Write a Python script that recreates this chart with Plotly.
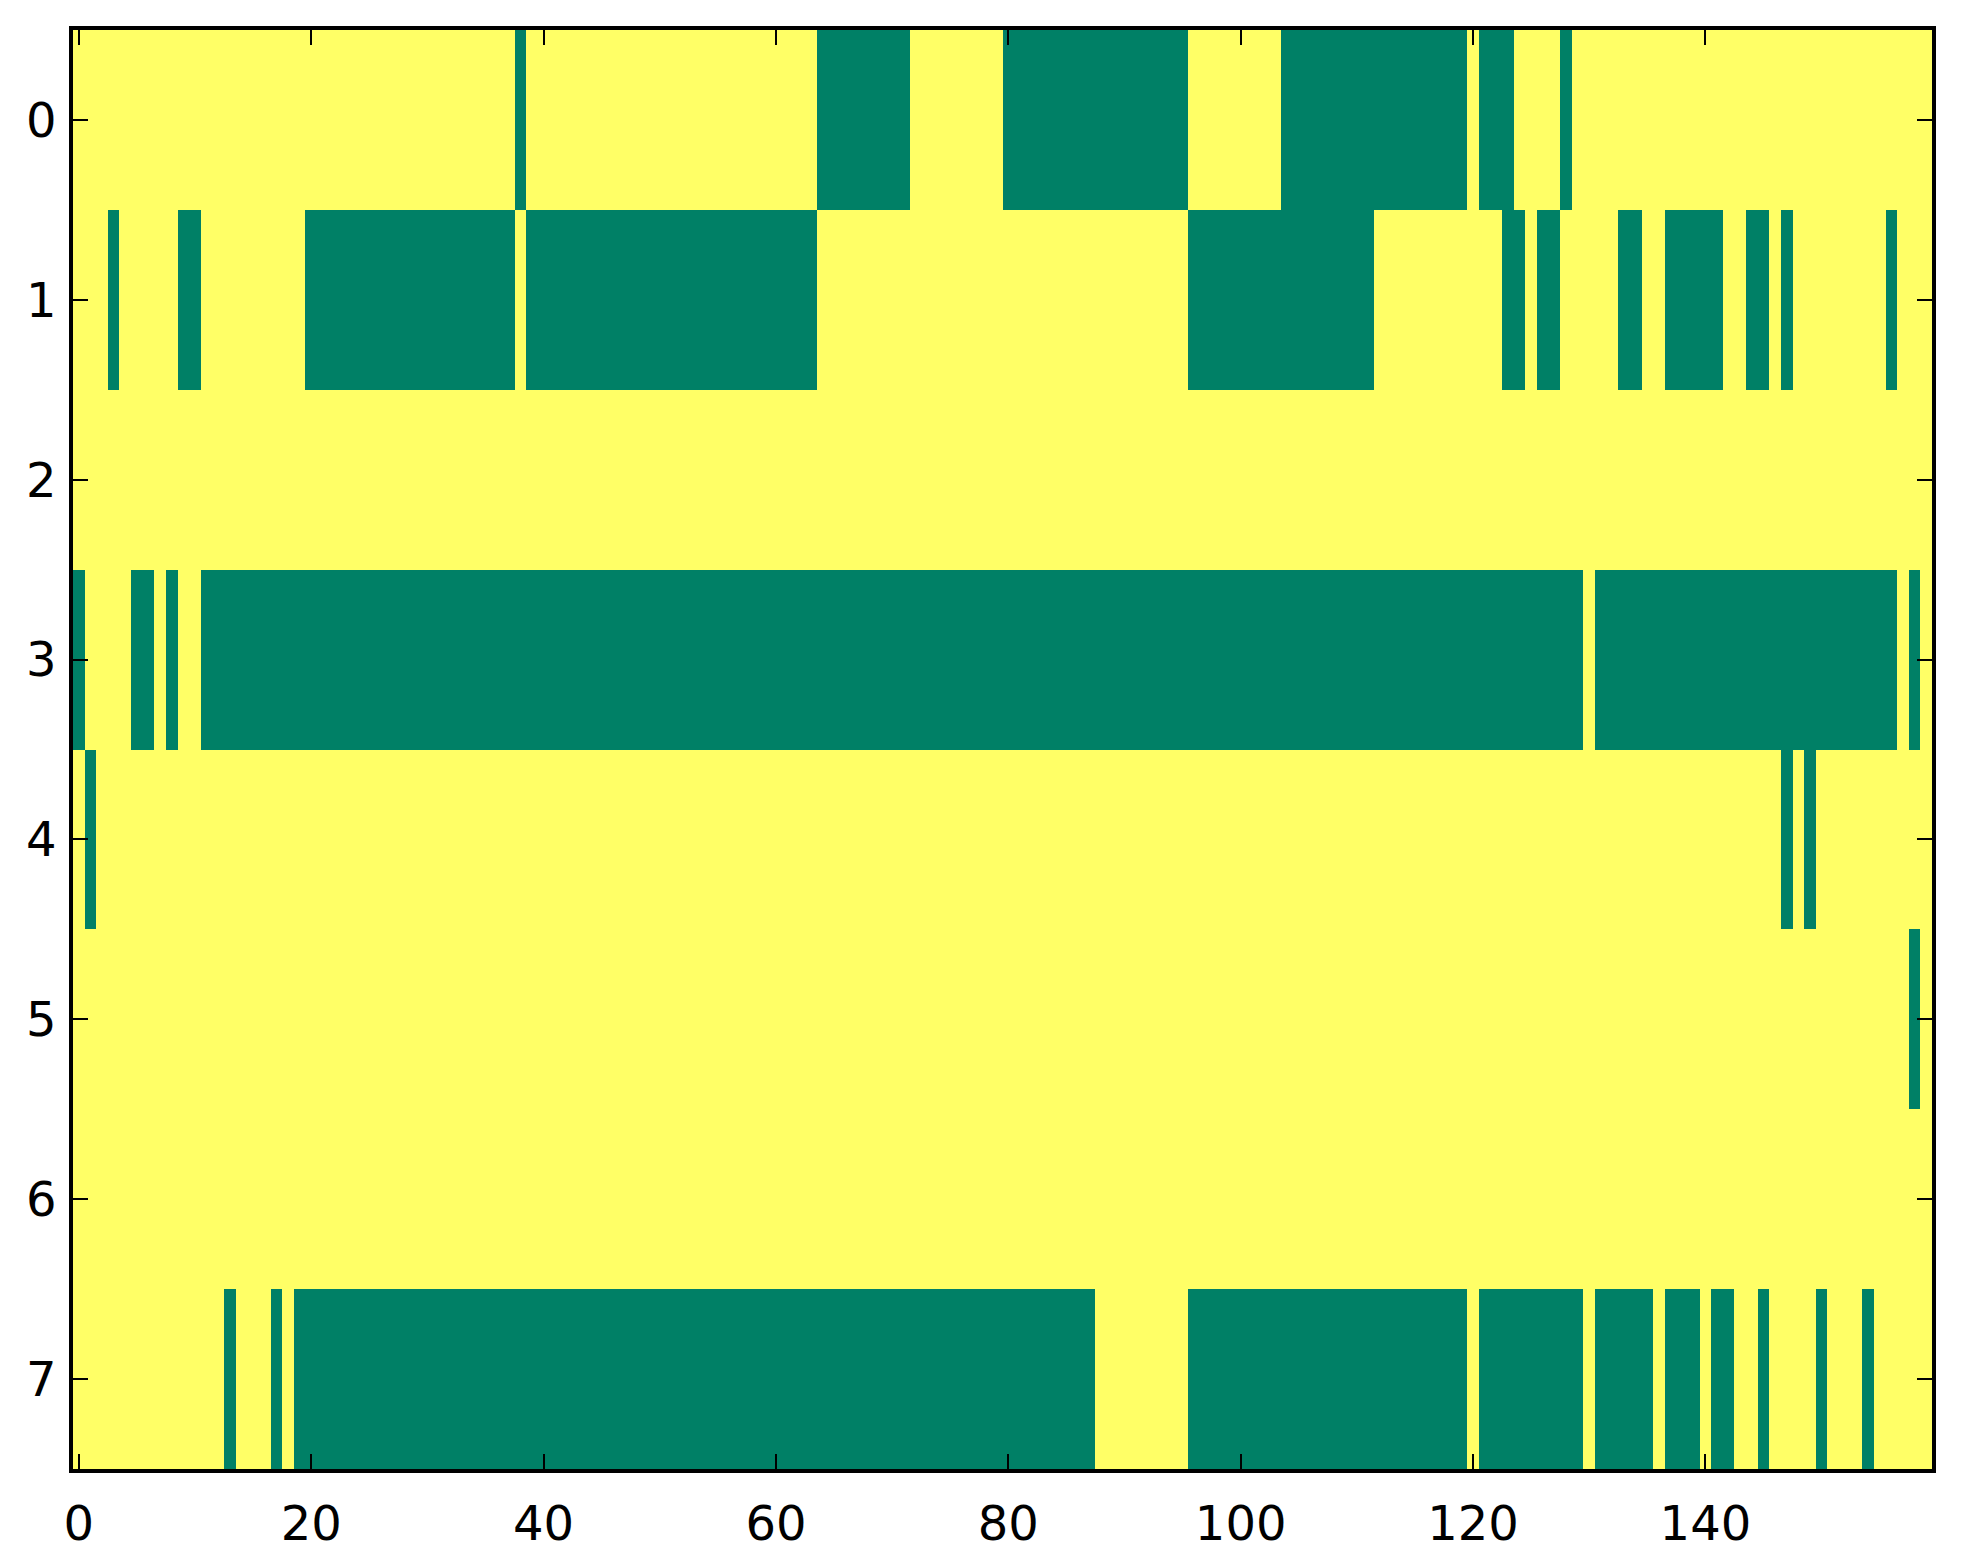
import plotly.graph_objects as go

# Matrix size
n_rows = 8
n_cols = 160

# Green (value 0) runs per row, inclusive column ranges; everything else is 1 (yellow)
row0_low = [(38, 38), (64, 71), (80, 95), (104, 119), (121, 123), (128, 128)]
row1_low = [(3, 3), (9, 10), (20, 37), (39, 63), (96, 111), (123, 124), (126, 127),
            (133, 134), (137, 141), (144, 145), (147, 147), (156, 156)]
row2_low = []
row3_low = [(0, 0), (5, 6), (8, 8), (11, 129), (131, 156), (158, 158)]
row4_low = [(1, 1), (147, 147), (149, 149)]
row5_low = [(158, 158)]
row6_low = []
row7_low = [(13, 13), (17, 17), (19, 87), (96, 119), (121, 129), (131, 135),
            (137, 139), (141, 142), (145, 145), (150, 150), (154, 154)]

rows_low = [row0_low, row1_low, row2_low, row3_low, row4_low, row5_low, row6_low, row7_low]

x_ticks = [0, 20, 40, 60, 80, 100, 120, 140]
y_ticks = [0, 1, 2, 3, 4, 5, 6, 7]

z = []
for runs in rows_low:
    row = [1] * n_cols
    for a, b in runs:
        for c in range(a, b + 1):
            row[c] = 0
    z.append(row)

fig = go.Figure(go.Heatmap(
    z=z,
    x=list(range(n_cols)),
    y=list(range(n_rows)),
    colorscale=[[0, "#008066"], [1, "#ffff66"]],
    zmin=0, zmax=1,
    showscale=False,
    hoverinfo="skip",
))

axis_common = dict(
    showline=True, linecolor="black", linewidth=3.5,
    mirror="ticks", ticks="inside", ticklen=15, tickwidth=2, tickcolor="black",
    showgrid=False, zeroline=False,
    tickfont=dict(family="DejaVu Sans", size=48, color="black"),
)

fig.update_xaxes(range=[-0.5, n_cols - 0.5], tickvals=x_ticks, ticklabelstandoff=10, **axis_common)
fig.update_yaxes(range=[n_rows - 0.5, -0.5], tickvals=y_ticks, ticklabelstandoff=3, **axis_common)

fig.update_layout(
    width=1955, height=1556,
    margin=dict(l=65, r=31, t=22, b=95),
    paper_bgcolor="white", plot_bgcolor="white",
)

fig.write_html("out.html")
